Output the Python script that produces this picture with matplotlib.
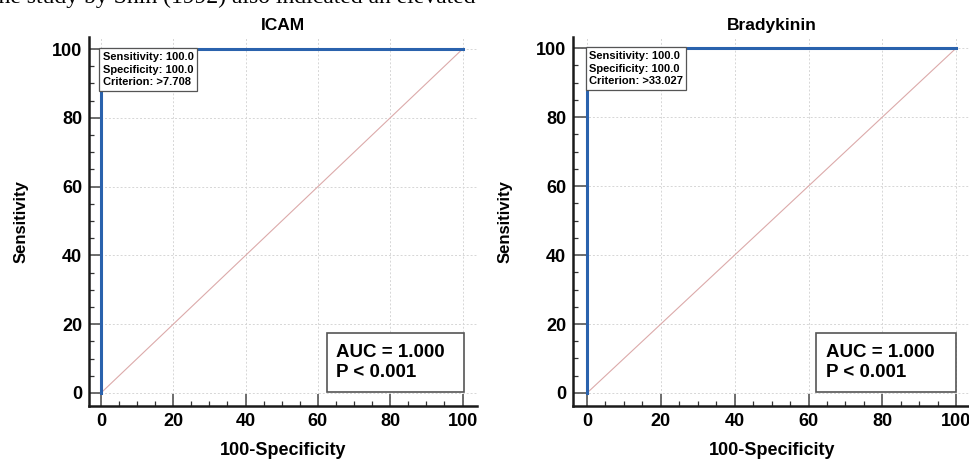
import numpy as np
import matplotlib.pyplot as plt
from matplotlib.ticker import MultipleLocator

plt.rcParams['font.family'] = ['Liberation Sans', 'DejaVu Sans']

# ROC data
titles = ['ICAM', 'Bradykinin']
fpr = [[0, 0, 100], [0, 0, 100]]
tpr = [[0, 100, 100], [0, 100, 100]]
sens = [100.0, 100.0]
spec = [100.0, 100.0]
criterion = ['>7.708', '>33.027']
auc = [1.000, 1.000]
pval = ['< 0.001', '< 0.001']
diag = [0, 100]

fig = plt.figure(figsize=(9.69, 4.63), dpi=100)

# cut-off line of body text from the page above the figure
fig.text(-0.008, 1 - 3/463, 'the study by Shih (1992) also indicated an elevated',
         family='Liberation Serif', fontsize=17, va='baseline', ha='left')

boxes = [[89/969, 1-406/463, 388/969, 369/463],
         [573/969, 1-406/463, 398/969, 369/463]]
xlims = [(-3.3, 104), (-3.8, 104)]
ylims = [(-3.78, 103.5), (-3.77, 103.2)]
auc_box = [(327, 464), (816, 956)]

for i in range(2):
    ax = fig.add_axes(boxes[i])
    ax.set_xlim(xlims[i])
    ax.set_ylim(ylims[i])
    ax.plot(diag, diag, color='#dcaaaa', lw=0.8, zorder=2)
    ax.plot(fpr[i], tpr[i], color='#2a62ad', lw=2.2, zorder=3, clip_on=False)

    ax.xaxis.set_major_locator(MultipleLocator(20))
    ax.yaxis.set_major_locator(MultipleLocator(20))
    ax.xaxis.set_minor_locator(MultipleLocator(5))
    ax.yaxis.set_minor_locator(MultipleLocator(5))
    ax.grid(True, which='major', color='#d6d6d6', ls=(0, (2, 2)), lw=0.7)
    ax.set_axisbelow(True)

    for s in ['top', 'right']:
        ax.spines[s].set_visible(False)
    for s in ['left', 'bottom']:
        ax.spines[s].set_linewidth(1.8)
        ax.spines[s].set_color('#1a1a1a')

    ax.tick_params(which='major', direction='in', length=9, width=1.2, color='#555555',
                   labelsize=13, pad=5)
    ax.tick_params(which='minor', direction='in', length=3.5, width=0.9, color='#333333')
    for lab in ax.get_xticklabels() + ax.get_yticklabels():
        lab.set_fontweight('bold')
        lab.set_clip_on(False)

    ax.set_title(titles[i], fontsize=12.5, fontweight='bold', pad=5)
    ax.set_xlabel('100-Specificity', fontsize=13, fontweight='bold', labelpad=9)
    ax.set_ylabel('Sensitivity', fontsize=12, fontweight='bold', labelpad=17)

    info = 'Sensitivity: %.1f\nSpecificity: %.1f\nCriterion: %s' % (sens[i], spec[i], criterion[i])
    ax.text(0.5, 99.2, info, fontsize=8, fontweight='bold', va='top', ha='left',
            linespacing=1.35, zorder=4,
            bbox=dict(boxstyle='square,pad=0.3', fc='white', ec='#555555', lw=0.9))

    # AUC box, placed in pixel terms converted to axes fraction
    x0 = (auc_box[i][0] - boxes[i][0]*969) / (boxes[i][2]*969)
    x1 = (auc_box[i][1] - boxes[i][0]*969) / (boxes[i][2]*969)
    y0 = (406 - 392) / 369
    y1 = (406 - 333) / 369
    ax.add_patch(plt.Rectangle((x0, y0), x1 - x0, y1 - y0, transform=ax.transAxes,
                               fc='white', ec='#555555', lw=1.2, zorder=4))
    ax.text(x0 + 0.024, (y0 + y1)/2, 'AUC = %.3f\nP %s' % (auc[i], pval[i]),
            transform=ax.transAxes, fontsize=13.5, fontweight='bold', va='center',
            ha='left', linespacing=1.2, zorder=5)

fig.savefig('out.png', dpi=100)
